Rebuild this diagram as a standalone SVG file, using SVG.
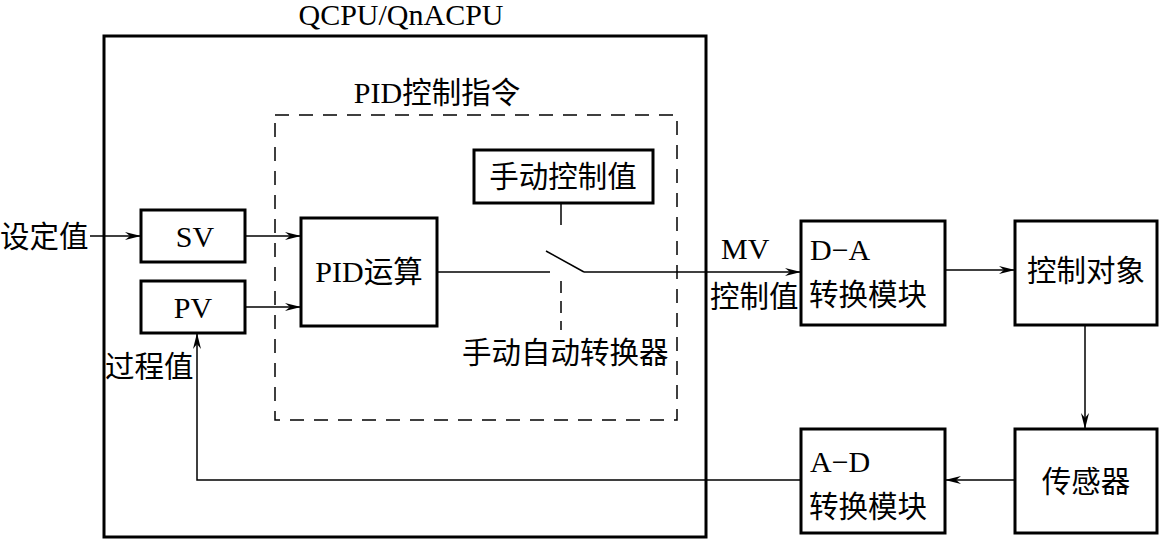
<svg xmlns="http://www.w3.org/2000/svg" width="1160" height="541" viewBox="0 0 1160 541">
<defs>
<style>
.box{fill:#fff;stroke:#000;stroke-width:3}
.dash{fill:none;stroke:#000;stroke-width:1.5;stroke-dasharray:14,10}
.ln{fill:none;stroke:#000;stroke-width:1.5}
.t{font-family:"Liberation Serif","Noto Sans CJK SC",serif;font-size:30px;fill:#000}
.c{font-family:"Liberation Serif","Noto Sans CJK SC",serif;font-size:29.5px;fill:#000}
</style>
<marker id="ar" viewBox="0 0 16 8" refX="16" refY="4" markerWidth="16" markerHeight="8" markerUnits="userSpaceOnUse" orient="auto">
<path d="M0,0 L16,4 L0,8 L5,4 z" fill="#000"/>
</marker>
</defs>
<rect width="1160" height="541" fill="#fff"/>
<g id="cpu">
<rect class="box" x="104" y="36" width="602" height="501"/>
<text class="t" x="401" y="25" text-anchor="middle">QCPU/QnACPU</text>
</g>
<g id="pid-instr">
<rect class="dash" x="275" y="115" width="402" height="305"/>
<text class="c" x="437" y="103" text-anchor="middle"><tspan font-size="30">PID</tspan>控制指令</text>
</g>
<g id="sv">
<rect class="box" x="141" y="210" width="104" height="52"/>
<text class="t" x="195" y="247" text-anchor="middle">SV</text>
</g>
<g id="pv">
<rect class="box" x="141" y="281" width="104" height="52"/>
<text class="t" x="193" y="318" text-anchor="middle">PV</text>
</g>
<g id="pid">
<rect class="box" x="301" y="218" width="136" height="108"/>
<text class="c" x="369" y="282" text-anchor="middle"><tspan font-size="30">PID</tspan>运算</text>
</g>
<g id="manual">
<rect class="box" x="474" y="150" width="179" height="53"/>
<text class="c" x="563" y="187" text-anchor="middle">手动控制值</text>
</g>
<g id="da">
<rect class="box" x="801" y="221" width="144" height="104"/>
<text class="t" x="810" y="260">D−A</text>
<text class="c" x="809" y="305">转换模块</text>
</g>
<g id="obj">
<rect class="box" x="1015" y="221" width="142" height="104"/>
<text class="c" x="1086" y="281" text-anchor="middle">控制对象</text>
</g>
<g id="ad">
<rect class="box" x="801" y="429" width="144" height="104"/>
<text class="t" x="810" y="472">A−D</text>
<text class="c" x="809" y="517">转换模块</text>
</g>
<g id="sensor">
<rect class="box" x="1015" y="429" width="142" height="104"/>
<text class="c" x="1086" y="492" text-anchor="middle">传感器</text>
</g>
<g id="labels">
<text class="c" x="0" y="247">设定值</text>
<text class="c" x="105" y="377">过程值</text>
<text class="t" x="721" y="259">MV</text>
<text class="c" x="710" y="307">控制值</text>
<text class="c" x="462" y="363">手动自动转换器</text>
</g>
<g id="connectors">
<line class="ln" x1="90" y1="236" x2="141" y2="236" marker-end="url(#ar)"/>
<line class="ln" x1="245" y1="236" x2="301" y2="236" marker-end="url(#ar)"/>
<line class="ln" x1="245" y1="307" x2="301" y2="307" marker-end="url(#ar)"/>
<line class="ln" x1="437" y1="272" x2="550" y2="272"/>
<line class="ln" x1="546" y1="251" x2="584" y2="272"/>
<line class="ln" x1="584" y1="272" x2="801" y2="272" marker-end="url(#ar)"/>
<line class="ln" x1="561" y1="203" x2="561" y2="225"/>
<line class="ln" x1="561" y1="281" x2="561" y2="330" stroke-dasharray="12,8"/>
<line class="ln" x1="945" y1="270" x2="1015" y2="270" marker-end="url(#ar)"/>
<line class="ln" x1="1085" y1="325" x2="1085" y2="429" marker-end="url(#ar)"/>
<line class="ln" x1="1015" y1="480" x2="945" y2="480" marker-end="url(#ar)"/>
<polyline class="ln" points="801,480 197,480 197,333" marker-end="url(#ar)"/>
</g>
</svg>
